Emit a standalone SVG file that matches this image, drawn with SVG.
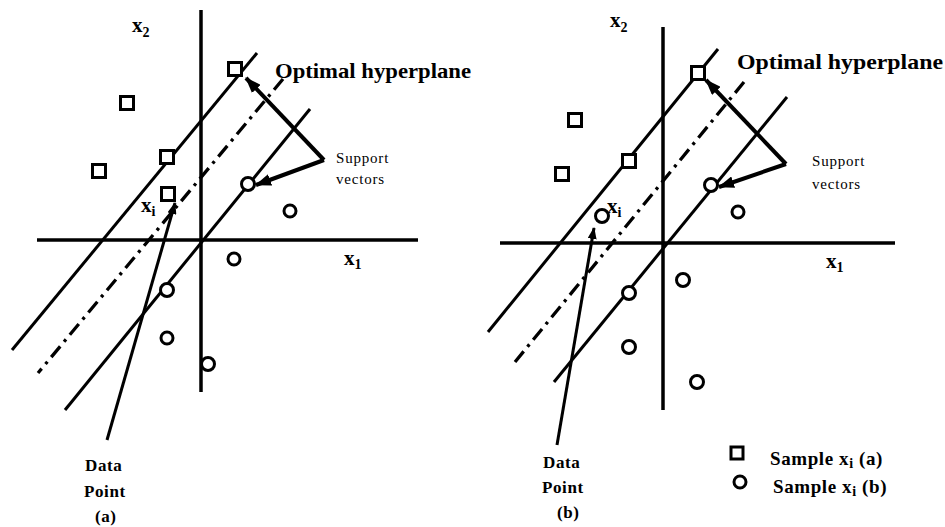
<svg xmlns="http://www.w3.org/2000/svg" width="945" height="527" viewBox="0 0 945 527">
<defs>
<marker id="ah" markerUnits="userSpaceOnUse" markerWidth="16" markerHeight="12" viewBox="0 0 16 12" refX="15" refY="6" orient="auto">
<path d="M0,0 L16,6 L0,12 Z" fill="#000"/>
</marker>
<marker id="ahs" markerUnits="userSpaceOnUse" markerWidth="12" markerHeight="9" viewBox="0 0 12 9" refX="11" refY="4.5" orient="auto">
<path d="M0,0 L12,4.5 L0,9 Z" fill="#000"/>
</marker>
</defs>
<style>
.ax{stroke:#000;stroke-width:3.5;fill:none}
.hp{stroke:#000;stroke-width:3;fill:none}
.dd{stroke:#000;stroke-width:3.3;fill:none;stroke-dasharray:14 6 3 6}
.sv{stroke:#000;stroke-width:4;fill:none;marker-end:url(#ah)}
.dp{stroke:#000;stroke-width:3;fill:none;marker-end:url(#ahs)}
.sq{fill:#fff;stroke:#000;stroke-width:3}
.ci{fill:#fff;stroke:#000;stroke-width:3}
text{font-family:"Liberation Serif","Times New Roman",serif;fill:#000}
.t1{font-size:22px;font-weight:bold}
.sm{font-size:15px;letter-spacing:0.8px}
.lb{font-size:21px;font-weight:bold}
.sub{font-size:14px;font-weight:bold}
.dt{font-size:17px;font-weight:bold;letter-spacing:0.6px}
.lg{font-size:19px;font-weight:bold;letter-spacing:0.6px}
</style>
<rect width="945" height="527" fill="#fff"/>

<g id="connectors">
<!-- left panel -->
<line class="ax" x1="201" y1="10" x2="201" y2="392"/>
<line class="ax" x1="37" y1="240" x2="418" y2="240"/>
<line class="hp" x1="257" y1="53" x2="12" y2="350"/>
<line class="dd" x1="283" y1="79" x2="38" y2="373"/>
<line class="hp" x1="310" y1="109" x2="65" y2="410"/>
<line class="sv" x1="324" y1="160" x2="246" y2="78"/>
<line class="sv" x1="324" y1="160" x2="256" y2="185"/>
<line class="dp" x1="107" y1="440" x2="175" y2="203"/>
<!-- right panel -->
<line class="ax" x1="663" y1="27" x2="663" y2="410"/>
<line class="ax" x1="500" y1="243" x2="895" y2="243"/>
<line class="hp" x1="718" y1="49" x2="488" y2="332"/>
<line class="dd" x1="744" y1="82" x2="515" y2="362"/>
<line class="hp" x1="787" y1="97" x2="554" y2="382"/>
<line class="sv" x1="786" y1="164" x2="706" y2="80"/>
<line class="sv" x1="786" y1="164" x2="719" y2="187"/>
<line class="dp" x1="557" y1="445" x2="594" y2="228"/>
</g>

<g id="samples-left">
<rect class="sq" x="228.5" y="62.5" width="13" height="13"/>
<rect class="sq" x="120.5" y="96.5" width="13" height="13"/>
<rect class="sq" x="160.5" y="150.5" width="13" height="13"/>
<rect class="sq" x="92.5" y="164.5" width="13" height="13"/>
<rect class="sq" x="161.5" y="187.5" width="13" height="13"/>
<circle class="ci" cx="248" cy="184" r="6.5"/>
<circle class="ci" cx="290" cy="211" r="6"/>
<circle class="ci" cx="234" cy="259" r="6"/>
<circle class="ci" cx="167" cy="290" r="6.5"/>
<circle class="ci" cx="167" cy="338" r="6"/>
<circle class="ci" cx="208" cy="364" r="6.5"/>
</g>

<g id="samples-right">
<rect class="sq" x="691.5" y="66.5" width="13" height="13"/>
<rect class="sq" x="568.5" y="113.5" width="13" height="13"/>
<rect class="sq" x="622.5" y="154.5" width="13" height="13"/>
<rect class="sq" x="555.5" y="167.5" width="13" height="13"/>
<circle class="ci" cx="602" cy="216" r="6.5"/>
<circle class="ci" cx="711" cy="185" r="6.5"/>
<circle class="ci" cx="738" cy="212" r="6"/>
<circle class="ci" cx="683" cy="280" r="6.5"/>
<circle class="ci" cx="629" cy="293" r="6.5"/>
<circle class="ci" cx="629" cy="347" r="6.5"/>
<circle class="ci" cx="697" cy="382" r="6.5"/>
</g>

<g id="labels-left">
<text class="lb" x="132" y="32">x<tspan class="sub" dy="5">2</tspan></text>
<text class="t1" x="275" y="78" textLength="196" lengthAdjust="spacingAndGlyphs">Optimal hyperplane</text>
<text class="sm" x="336" y="163">Support</text>
<text class="sm" x="336" y="184">vectors</text>
<text class="lb" x="141" y="212">x<tspan class="sub" dy="4">i</tspan></text>
<text class="lb" x="344" y="265">x<tspan class="sub" dy="4">1</tspan></text>
<text class="dt" x="85" y="471">Data</text>
<text class="dt" x="84" y="497">Point</text>
<text class="dt" x="95" y="522">(a)</text>
</g>

<g id="labels-right">
<text class="lb" x="610" y="27">x<tspan class="sub" dy="5">2</tspan></text>
<text class="t1" x="737" y="69" textLength="206" lengthAdjust="spacingAndGlyphs">Optimal hyperplane</text>
<text class="sm" x="812" y="166">Support</text>
<text class="sm" x="812" y="189">vectors</text>
<text class="lb" x="607" y="213">x<tspan class="sub" dy="4">i</tspan></text>
<text class="lb" x="826" y="268">x<tspan class="sub" dy="4">1</tspan></text>
<text class="dt" x="543" y="468">Data</text>
<text class="dt" x="542" y="493">Point</text>
<text class="dt" x="557" y="518">(b)</text>
</g>

<g id="legend">
<rect class="sq" x="731" y="447" width="12" height="12"/>
<text class="lg" x="770" y="465">Sample x<tspan class="sub" dy="3">i</tspan><tspan dy="-3"> (a)</tspan></text>
<circle class="ci" cx="740" cy="482" r="6"/>
<text class="lg" x="773" y="493">Sample x<tspan class="sub" dy="3">i</tspan><tspan dy="-3"> (b)</tspan></text>
</g>
</svg>
